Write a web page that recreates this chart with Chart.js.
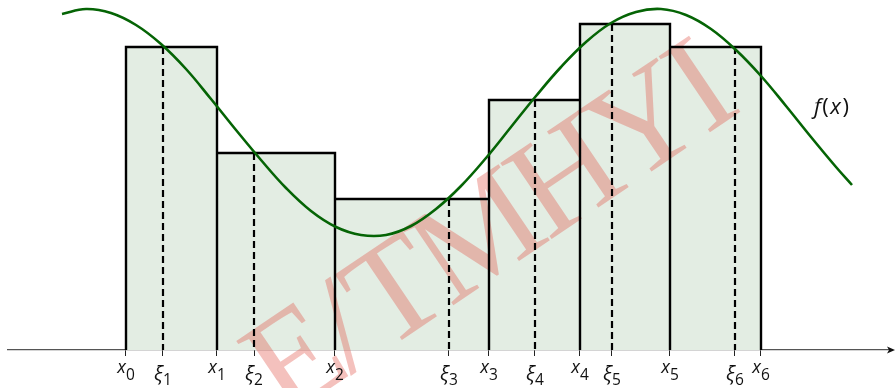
<!DOCTYPE html>
<html><head><meta charset="utf-8">
<script src="https://cdn.jsdelivr.net/npm/chart.js@4"></script>
<style>html,body{margin:0;padding:0;background:#fff}#wrap{width:896px;height:388px}</style>
</head><body><div id="wrap"><canvas id="c" width="896" height="388"></canvas></div>
<script>
// ---- data ----
const partitionX = [0, 0.91, 2.09, 3.63, 4.54, 5.44, 6.35];          // x0..x6
const sampleXi   = [0.37, 1.28, 3.23, 4.09, 4.86, 6.09];              // ξ1..ξ6
const rectHeights = [3.03, 1.97, 1.51, 2.50, 3.26, 3.03];             // f(ξi)
const tickValues = [0, 0.37, 0.91, 1.28, 2.09, 3.23, 3.63, 4.09, 4.54, 4.86, 5.44, 6.09, 6.35];
const tickLabels = ['x0','ξ1','x1','ξ2','x2','ξ3','x3','ξ4','x4','ξ5','x5','ξ6','x6'];
const curveX = [-0.64,-0.4,-0.15,0.1,0.35,0.6,0.85,1.1,1.35,1.6,1.85,2.1,2.35,2.6,2.85,3.1,3.35,3.6,3.85,4.1,4.35,4.6,4.85,5.1,5.35,5.6,5.85,6.1,6.35,6.6,6.85,7.1,7.26];
const curveY = [3.36,3.41,3.37,3.25,3.06,2.81,2.51,2.20,1.90,1.62,1.39,1.23,1.15,1.15,1.24,1.41,1.64,1.92,2.23,2.54,2.83,3.08,3.27,3.38,3.41,3.35,3.21,3.00,2.74,2.44,2.13,1.83,1.65];
const curveLabel = ['f', '(', 'x', ')'];
const watermarkText = ['Ε/', 'ΤΜΗΥΙ'];

// ---- build datasets ----
const rectPts = [];
for (let i = 0; i < rectHeights.length; i++) {
  rectPts.push({x: partitionX[i], y: 0}, {x: partitionX[i], y: rectHeights[i]},
               {x: partitionX[i+1], y: rectHeights[i]}, {x: partitionX[i+1], y: 0});
}
const dashPts = [];
sampleXi.forEach((xi, i) => {
  dashPts.push({x: xi, y: rectHeights[i]}, {x: xi, y: 0}, {x: xi, y: null});
});
const curvePts = curveX.map((x, i) => ({x, y: curveY[i]}));

function drawWatermark(ctx) {
  ctx.save();
  ctx.fillStyle = 'rgba(226,92,82,0.38)';
  ctx.font = '140px "Liberation Serif"';
  try { ctx.letterSpacing = '-6px'; } catch (e) {}
  ctx.translate(384, 352);
  ctx.rotate(-34 * Math.PI / 180);
  ctx.textBaseline = 'alphabetic';
  ctx.textAlign = 'right'; ctx.fillText(watermarkText[0], -8, 0);
  ctx.textAlign = 'left'; ctx.fillText(watermarkText[1], 0, 0);
  ctx.restore();
}

const decor = {
  id: 'decor',
  beforeDatasetDraw(chart, args) {
    // after the rectangle fill (filler plugin), before outlines
    if (args.index === 2) drawWatermark(chart.ctx);
  },
  afterDraw(chart) {
    const ctx = chart.ctx, xs = chart.scales.x, area = chart.chartArea;
    ctx.save();
    // arrow head
    const ay = area.bottom;
    ctx.fillStyle = '#111';
    ctx.beginPath();
    ctx.moveTo(area.right + 7, ay);
    ctx.lineTo(area.right - 1, ay - 3.5);
    ctx.lineTo(area.right + 1, ay);
    ctx.lineTo(area.right - 1, ay + 3.5);
    ctx.closePath();
    ctx.fill();
    // tick labels with subscripts
    ctx.fillStyle = '#111';
    ctx.textBaseline = 'alphabetic';
    ctx.textAlign = 'left';
    tickLabels.forEach((lab, i) => {
      const base = lab.charAt(0), sub = lab.slice(1);
      const greek = base !== 'x';
      const bf = greek ? 'italic 20px "Open Sans"' : 'italic 18px "Open Sans"';
      const sf = '15.5px "Open Sans"';
      ctx.font = bf; const wb = ctx.measureText(base).width;
      ctx.font = sf; const ws = ctx.measureText(sub).width;
      const px = xs.getPixelForValue(tickValues[i]);
      const x0 = px - (wb + ws) / 2;
      const by = greek ? 380 : 373;
      ctx.font = bf; ctx.fillText(base, x0, by);
      ctx.font = sf; ctx.fillText(sub, x0 + wb, by + (greek ? 5 : 6.5));
    });
    // f(x) label
    let fx = xs.getPixelForValue(6.88), fy = 114;
    curveLabel.forEach((t, k) => {
      ctx.font = (k % 2 === 0 ? 'italic ' : '') + '22px "Open Sans"';
      ctx.fillText(t, fx, fy); fx += ctx.measureText(t).width + 1.5;
    });
    ctx.restore();
  }
};

new Chart(document.getElementById('c'), {
  type: 'line',
  data: { datasets: [
    { label: 'f', data: curvePts, order: 0, borderColor: '#056405', borderWidth: 2.6, pointRadius: 0, tension: 0.4, fill: false },
    { label: 'xi', data: dashPts, order: 1, borderColor: '#000', borderWidth: 2.2, borderDash: [7, 4], pointRadius: 0, tension: 0, spanGaps: false, fill: false },
    { label: 'rects', data: rectPts, order: 2, borderColor: '#000', borderWidth: 2.4, backgroundColor: '#e3ede3', pointRadius: 0, tension: 0, fill: 'origin' }
  ]},
  options: {
    responsive: false, animation: false, devicePixelRatio: 1,
    layout: { padding: { left: 8, right: 8, top: 0, bottom: 0 } },
    plugins: { legend: { display: false }, tooltip: { enabled: false } },
    scales: {
      x: { type: 'linear', min: -1.18, max: 7.62,
           afterBuildTicks: s => { s.ticks = tickValues.map(v => ({ value: v })); },
           afterFit: s => { s.height = 38; },
           ticks: { display: false, autoSkip: false },
           grid: { drawOnChartArea: false, drawTicks: true, tickLength: 6, color: '#222', lineWidth: 1 },
           border: { display: true, color: '#555', width: 1.3 } },
      y: { type: 'linear', display: false, min: 0, max: 3.5 }
    }
  },
  plugins: [decor]
});
</script></body></html>
